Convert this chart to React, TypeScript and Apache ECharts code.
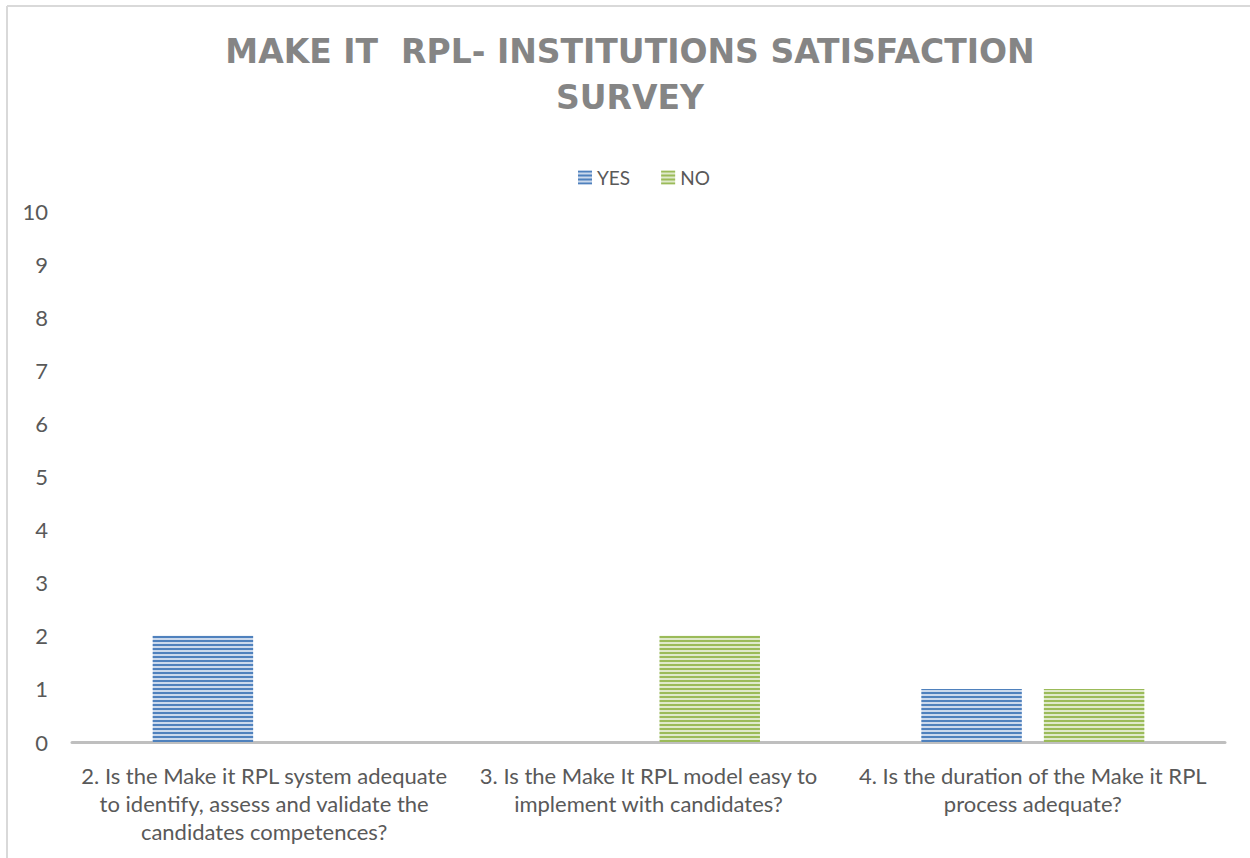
import React, { useEffect, useRef } from "react";
import * as echarts from "echarts";

const categories = [
  "2. Is the Make it RPL system adequate\nto identify, assess and validate the\ncandidates competences?",
  "3. Is the Make It RPL model easy to\nimplement with candidates?",
  "4. Is the duration of the Make it RPL\nprocess adequate?",
];
const yesValues = [2, 0, 1];
const noValues = [0, 2, 1];
const titleText = "MAKE IT  RPL- INSTITUTIONS SATISFACTION\nSURVEY";

const FONT = "Lato, 'Open Sans', sans-serif";

export default function App() {
  const ref = useRef<HTMLDivElement>(null);
  useEffect(() => {
    if (!ref.current) return;
    const chart = echarts.init(ref.current, undefined, { renderer: "svg" });
    const stripe = (c: string) => ({
      symbol: "rect",
      symbolSize: 1,
      dashArrayX: [1, 0],
      dashArrayY: [2, 2],
      rotation: 0,
      color: c,
    });
    chart.setOption({
      animation: false,
      backgroundColor: "#ffffff",
      title: {
        text: titleText,
        left: 630,
        top: 28,
        padding: 0,
        textAlign: "center",
        textStyle: {
          fontFamily: "'DejaVu Sans', sans-serif",
          fontSize: 33,
          fontWeight: "bold",
          color: "#858585",
          lineHeight: 46,
        },
      },
      legend: {
        top: 163,
        left: 573,
        itemWidth: 14,
        itemHeight: 14,
        itemGap: 31,
        icon: "rect",
        textStyle: { fontFamily: FONT, fontSize: 19, color: "#595959" },
        data: ["YES", "NO"],
      },
      grid: { left: 72, right: 25, top: 211, bottom: 116, containLabel: false },
      xAxis: {
        type: "category",
        data: categories,
        axisLine: { show: true, lineStyle: { color: "#bfbfbf", width: 3 } },
        axisTick: { show: false },
        axisLabel: {
          fontFamily: FONT,
          fontSize: 22,
          color: "#595959",
          lineHeight: 28,
          margin: 19,
          interval: 0,
        },
      },
      yAxis: {
        type: "value",
        min: 0,
        max: 10,
        interval: 1,
        splitLine: { show: false },
        axisLine: { show: false },
        axisTick: { show: false },
        axisLabel: { fontFamily: FONT, fontSize: 22, color: "#595959", margin: 24 },
      },
      series: [
        {
          name: "YES",
          type: "bar",
          data: yesValues,
          barGap: "22%",
          barCategoryGap: "42%",
          itemStyle: { color: "#cbd9ec", decal: stripe("#4f81bd") },
        },
        {
          name: "NO",
          type: "bar",
          data: noValues,
          itemStyle: { color: "#dfe9cb", decal: stripe("#9bbb59") },
        },
      ],
      graphic: [
        {
          type: "line",
          shape: { x1: 7, y1: 6, x2: 1250, y2: 6 },
          style: { stroke: "#d9d9d9", lineWidth: 2 },
        },
        {
          type: "line",
          shape: { x1: 7, y1: 6, x2: 7, y2: 858 },
          style: { stroke: "#d9d9d9", lineWidth: 2 },
        },
      ],
    });
    return () => chart.dispose();
  }, []);
  return (
    <div
      ref={ref}
      style={{ position: "fixed", left: 0, top: 0, width: 1250, height: 858 }}
    />
  );
}
